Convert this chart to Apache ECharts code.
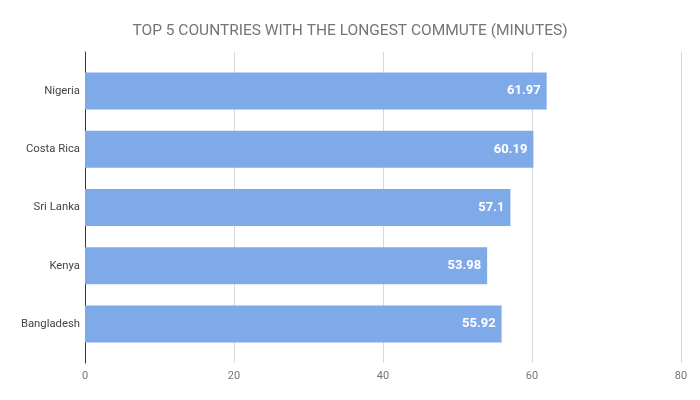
<!DOCTYPE html>
<html>
<head>
<meta charset="utf-8">
<script src="https://cdn.jsdelivr.net/npm/echarts@6/dist/echarts.min.js"></script>
<style>
  html, body { margin: 0; padding: 0; background: #fff; }
  #main { width: 700px; height: 400px; }
</style>
</head>
<body>
<div id="main"></div>
<script>
var countries = ['Nigeria', 'Costa Rica', 'Sri Lanka', 'Kenya', 'Bangladesh'];
var minutes = [61.97, 60.19, 57.1, 53.98, 55.92];
var xTicks = [0, 20, 40, 60, 80];

var font = 'Roboto, "Noto Sans", sans-serif';
var myChart = echarts.init(document.getElementById('main'));

myChart.setOption({
  animation: false,
  title: {
    text: 'TOP 5 COUNTRIES WITH THE LONGEST COMMUTE (MINUTES)',
    left: 'center',
    top: 18,
    textStyle: { color: '#757575', fontSize: 15.5, fontWeight: 'normal', fontFamily: font }
  },
  grid: [
    // frame: gridlines and axis lines
    { left: 85, right: 19, top: 52, bottom: 37 },
    // bars
    { left: 85, right: 19, top: 62, bottom: 47 }
  ],
  xAxis: [
    {
      gridIndex: 0,
      type: 'value',
      min: xTicks[0],
      max: xTicks[xTicks.length - 1],
      interval: 20,
      axisLine: { show: false },
      axisTick: { show: false },
      axisLabel: { color: '#757575', fontSize: 11, fontFamily: font, margin: 8 },
      splitLine: { lineStyle: { color: '#d9d9d9', width: 1 } }
    },
    {
      gridIndex: 1,
      type: 'value',
      min: xTicks[0],
      max: xTicks[xTicks.length - 1],
      show: false
    }
  ],
  yAxis: [
    {
      gridIndex: 0,
      type: 'category',
      data: countries,
      inverse: true,
      axisLine: { show: true, lineStyle: { color: '#333333', width: 1 } },
      axisTick: { show: false },
      axisLabel: { show: false }
    },
    {
      gridIndex: 1,
      type: 'category',
      data: countries,
      inverse: true,
      axisLine: { show: false },
      axisTick: { show: false },
      axisLabel: { color: '#444444', fontSize: 11.3, fontFamily: font, margin: 5 }
    }
  ],
  series: [{
    type: 'bar',
    xAxisIndex: 1,
    yAxisIndex: 1,
    data: minutes,
    barWidth: 37,
    itemStyle: { color: '#7faaea' },
    label: {
      show: true,
      position: 'insideRight',
      distance: 6,
      color: '#ffffff',
      fontSize: 13,
      fontWeight: 'bold',
      fontFamily: font
    }
  }]
});
</script>
</body>
</html>
